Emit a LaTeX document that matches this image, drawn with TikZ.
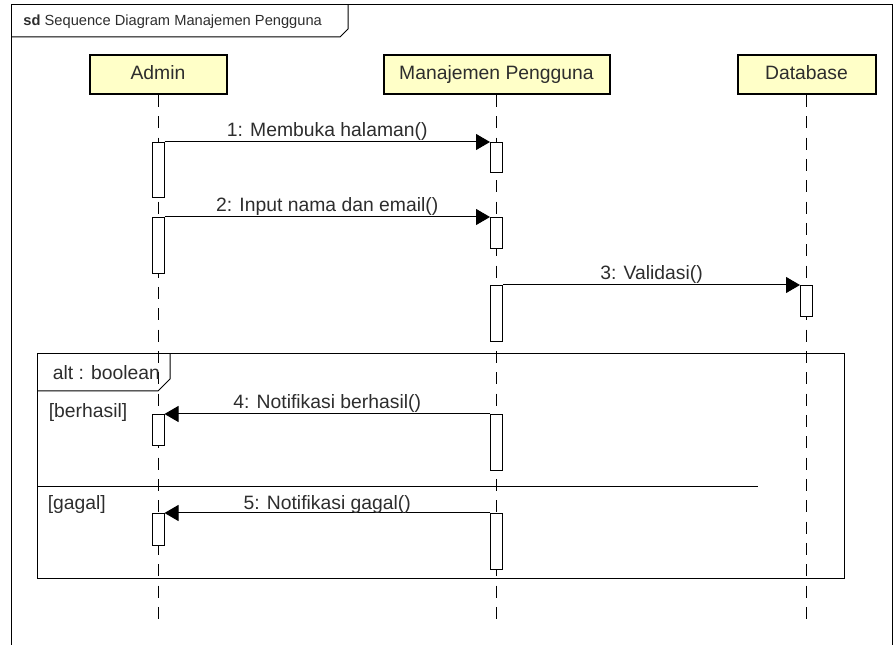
\documentclass[tikz,border=0pt]{standalone}
\usepackage{fontspec}
\setmainfont{Liberation Sans}
\usetikzlibrary{arrows.meta}

\definecolor{headfill}{RGB}{255,255,200}
\definecolor{ink}{RGB}{45,45,45}

\tikzset{every picture/.style={line width=0.75pt}}
\tikzset{
  head/.style={draw=black, line width=1.5pt, fill=headfill, minimum height=29.25pt, inner sep=0.75pt, text height=10.5pt, text depth=2.5pt, text=ink, font=\fontsize{14.5}{17}\selectfont},
  life/.style={dash pattern={on 9pt off 7pt}},
  act/.style={draw, fill=white, minimum width=9pt, inner sep=0pt, anchor=north},
  msg/.style={-{Triangle[length=10.5pt,width=12pt]}},
  lbl/.style={inner sep=1pt, text=ink, font=\fontsize{14.5}{17}\selectfont},
}

\begin{document}
\begin{tikzpicture}[x=0.75pt,y=0.75pt,yscale=-1,xscale=1]
\useasboundingbox (0,0) rectangle (894,645);

%Shape: Frame [id:sdframe]
\draw (11,645) -- (11,5) -- (892,5) -- (892,645) ;
\draw (11,37) -- (340,37) -- (348,29) -- (348,5) ;
% Text Node
\node [anchor=west, inner sep=0.75pt, text=ink, font=\fontsize{11}{13}\selectfont] (title) at (22,22) {\textbf{sd} Sequence Diagram Manajemen Pengguna};

%Shape: Lifeline heads
\node [head, minimum width=102.75pt] (admin) at (158,74.5) {Admin};
\node [head, minimum width=169.5pt] (manaj) at (496.5,74.5) {Manajemen Pengguna};
\node [head, minimum width=103.5pt] (db) at (806.5,74.5) {Database};

\coordinate (adminEnd) at (158,623);
\coordinate (manajEnd) at (496.5,623);
\coordinate (dbEnd) at (806.5,623);

%Straight Lines: lifelines
\draw [life] (admin.south) -- (adminEnd) ;
\draw [life] (manaj.south) -- (manajEnd) ;
\draw [life] (db.south) -- (dbEnd) ;

%Shape: Alt frame [id:altframe]
\draw (37,354) rectangle (844,579) ;
\draw (37,391) -- (158,391) -- (170,379) -- (170,354) ;
\draw (37,487) -- (758,487) ;
% Text Node
\node [lbl, anchor=west] (alt) at (51,373) {alt : boolean};
\node [lbl, anchor=west] (guard1) at (47,413) {[berhasil]};
\node [lbl, anchor=west] (guard2) at (46,505) {[gagal]};

%Shape: Activations
\node [act, minimum height=41.25pt] (a1) at (158,142) {};
\node [act, minimum height=22.5pt] (m1) at (496.5,142) {};
\node [act, minimum height=42pt] (a2) at (158,217) {};
\node [act, minimum height=23.25pt] (m2) at (496.5,217) {};
\node [act, minimum height=42pt] (m3) at (496.5,285) {};
\node [act, minimum height=23.25pt] (d3) at (806.5,285) {};
\node [act, minimum height=23.25pt] (a4) at (158,414) {};
\node [act, minimum height=42pt] (m4) at (496.5,414) {};
\node [act, minimum height=24pt] (a5) at (158,513) {};
\node [act, minimum height=42pt] (m5) at (496.5,513) {};

%Straight Lines: messages
\draw [msg] (a1.north east) -- node [lbl, above] {1: Membuka halaman()} (m1.north west) ;
\draw [msg] (a2.north east) -- node [lbl, above] {2: Input nama dan email()} (m2.north west) ;
\draw [msg] (m3.north east) -- node [lbl, above] {3: Validasi()} (d3.north west) ;
\draw [msg] (m4.north west) -- node [lbl, above] {4: Notifikasi berhasil()} (a4.north east) ;
\draw [msg] (m5.north west) -- node [lbl, above, yshift=-2pt] {5: Notifikasi gagal()} (a5.north east) ;

\end{tikzpicture}
\end{document}
